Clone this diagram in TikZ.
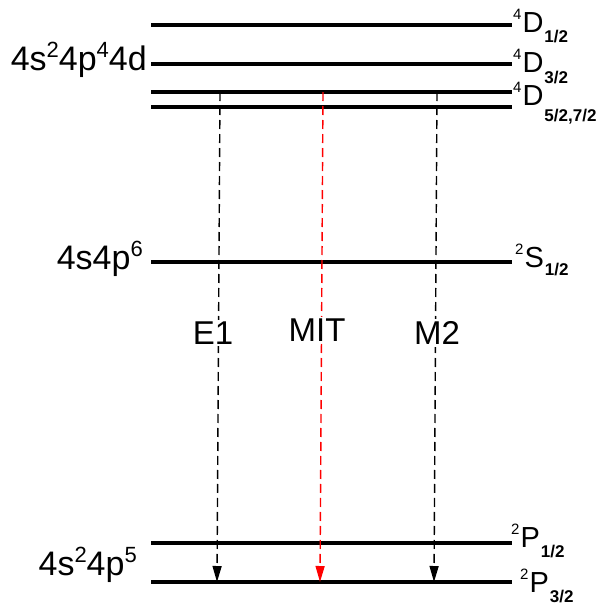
\documentclass[tikz,border=0pt]{standalone}
\usepackage{fontspec}
\setmainfont{Liberation Sans}
\usetikzlibrary{arrows.meta,positioning,calc}
% term symbols and configuration superscripts
\newcommand{\trm}[4][10pt]{\raisebox{13pt}{\fontsize{15}{15}\selectfont #2}\kern1pt{\fontsize{29}{29}\selectfont #3}\kern1pt\raisebox{-#1}{\fontsize{17}{17}\selectfont\bfseries #4}}
\newcommand{\cfgsup}[1]{\raisebox{12.5pt}{\fontsize{22}{22}\selectfont #1}}
\tikzset{
  level/.style={line width=3.6pt},
  trans/.style={-{Triangle[length=16pt, width=9pt]}, line width=1.4pt, dash pattern=on 9pt off 5pt},
  transmit/.style={trans, red},
  translbl/.style={fill=white, inner sep=2pt, font=\fontsize{33}{33}\selectfont},
  termlbl/.style={anchor=base west, inner sep=0pt},
  cfglbl/.style={anchor=base east, inner sep=0pt, font=\fontsize{34}{34}\selectfont},
}
\begin{document}
\begin{tikzpicture}[x=1pt, y=-1pt]
\useasboundingbox (0,0) rectangle (599,608);

%% energy levels
\foreach \nm/\yy in {dA/25, dB/64, dC/92, dD/107, sA/262, pA/543, pB/582}{
  \coordinate (\nm-l) at (151,\yy);
  \coordinate (\nm-r) at (512,\yy);
  \draw[level] (\nm-l) -- (\nm-r);
}

%% term labels
\node[termlbl] (tD1) at (513,32)  {\trm{4}{D}{1/2}};
\node[termlbl] (tD3) at (513,72)  {\trm[11pt]{4}{D}{3/2}};
\node[termlbl] (tD5) at (513,105) {\trm[16pt]{4}{D}{5/2,7/2}};
\node[termlbl] (tS1) at (515,267) {\trm[8pt]{2}{S}{1/2}};
\node[termlbl] (tP1) at (511,547) {\trm{2}{P}{1/2}};
\node[termlbl] (tP3) at (520,592) {\trm{2}{P}{3/2}};

%% configurations
\node[cfglbl] (cD) at (147,70)  {4s\cfgsup{2}4p\cfgsup{4}4d};
\node[cfglbl] (cS) at (143,269) {4s4p\cfgsup{6}};
\node[cfglbl] (cP) at (137,575) {4s\cfgsup{2}4p\cfgsup{5}};

%% transitions
\coordinate (e1a) at (220,92);  \coordinate (e1b) at (217,582);
\coordinate (mia) at (323,92);  \coordinate (mib) at (320,582);
\coordinate (m2a) at (437,92);  \coordinate (m2b) at (434,582);
\draw[trans]    (e1a) -- (e1b);
\draw[transmit] (mia) -- (mib);
\draw[trans]    (m2a) -- (m2b);

\node[translbl] (lE1) at (213,333) {E1};
\node[translbl] (lMI) at (317,330) {MIT};
\node[translbl] (lM2) at (437,333) {M2};

\end{tikzpicture}
\end{document}
